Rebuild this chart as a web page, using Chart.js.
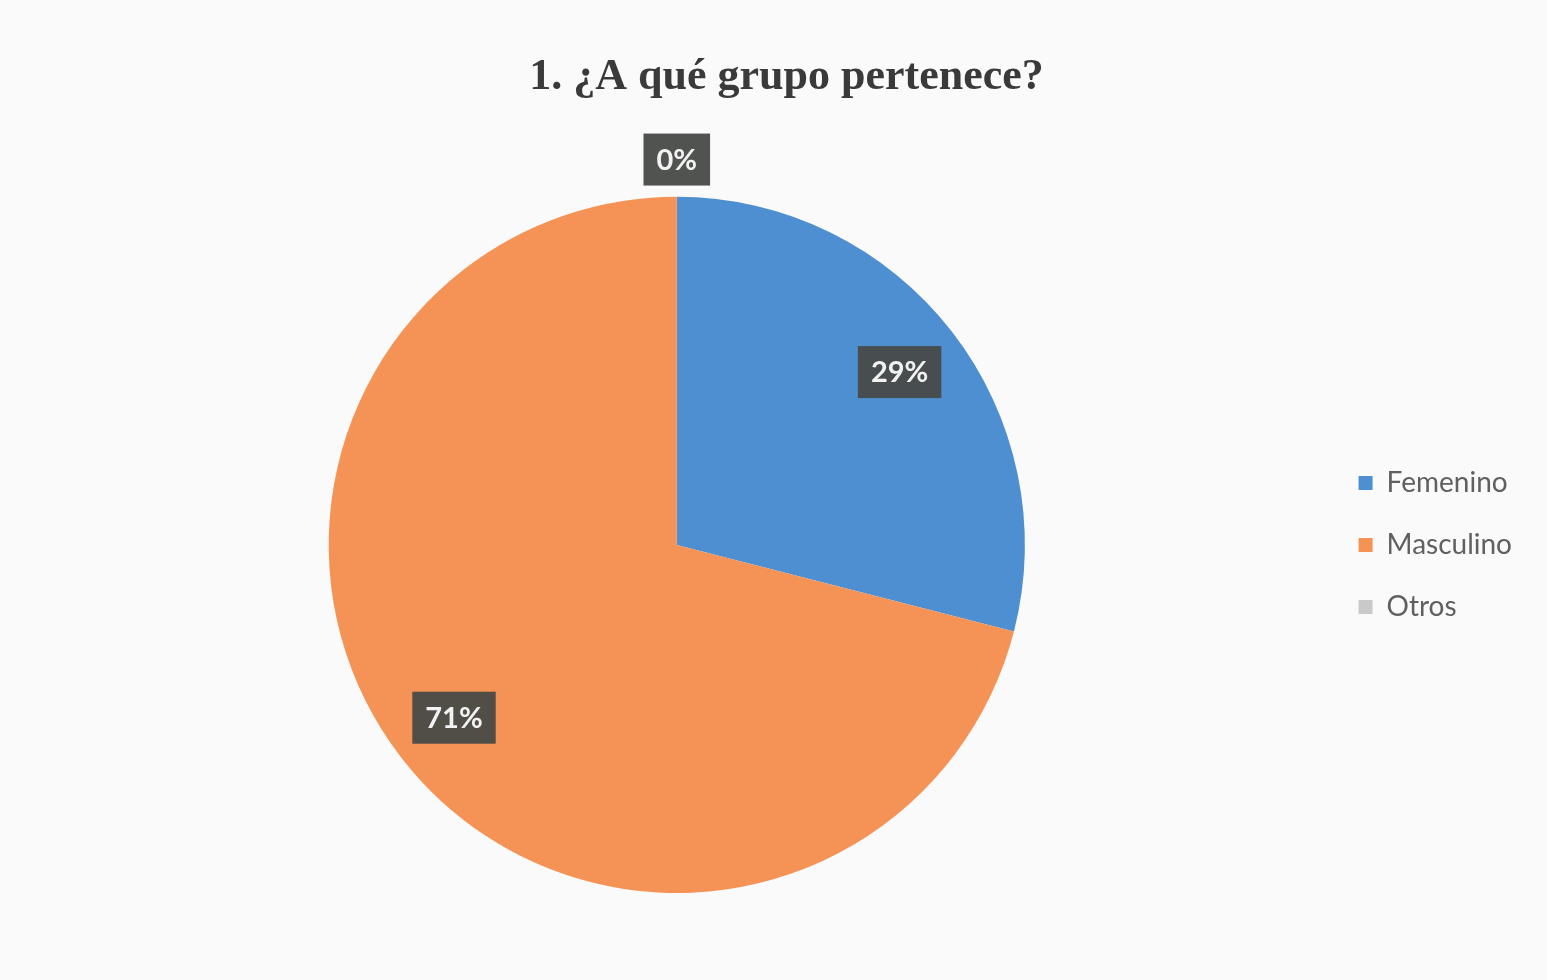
<!DOCTYPE html>
<html>
<head>
<meta charset="utf-8">
<script src="https://cdn.jsdelivr.net/npm/chart.js@4.4.1/dist/chart.umd.min.js"></script>
<style>
  html, body { margin: 0; padding: 0; background: #fafafa; overflow: hidden; }
  #wrap { position: relative; width: 1573px; height: 980px; }
</style>
</head>
<body>
<div id="wrap"><canvas id="pie"></canvas></div>
<script>
// --- DATA ---
const groups = ['Femenino', 'Masculino', 'Otros'];
const shares = [29, 71, 0];
const sliceColors = ['#4e8fd1', '#f59356', '#c9c9c9'];

// draws the dark label boxes on each slice (Excel style)
const sliceLabels = {
    id: 'sliceLabels',
    afterDatasetsDraw(chart) {
        const ctx = chart.ctx;
        const meta = chart.getDatasetMeta(0);
        ctx.save();
        ctx.font = 'bold 29px Lato';
        ctx.textAlign = 'center';
        ctx.textBaseline = 'middle';
        meta.data.forEach((arc, i) => {
            const p = arc.getProps(['x', 'y', 'startAngle', 'endAngle', 'outerRadius'], true);
            const mid = (p.startAngle + p.endAngle) / 2;
            // empty slices get their label pushed outside the pie
            const dist = shares[i] === 0 ? p.outerRadius * 1.107 : p.outerRadius * 0.81;
            const cx = p.x + Math.cos(mid) * dist;
            const cy = p.y + Math.sin(mid) * dist;
            const text = shares[i] + '%';
            const w = ctx.measureText(text).width + 26;
            const h = 52;
            ctx.fillStyle = 'rgba(72, 74, 72, 0.95)';
            ctx.fillRect(cx - w / 2, cy - h / 2, w, h);
            ctx.fillStyle = '#f2f2f2';
            ctx.fillText(text, cx, cy + 1);
        });
        ctx.restore();
    }
};

// extra room on the right of the legend so the title sits where it should
const widenLegend = {
    id: 'widenLegend',
    beforeLayout(chart) {
        const legend = chart.legend;
        if (!legend || legend._widened) return;
        const fit = legend.fit;
        legend.fit = function () {
            fit.call(this);
            this.width += 22;
        };
        legend._widened = true;
    }
};

new Chart(document.getElementById('pie'), {
    type: 'pie',
    data: {
        labels: groups,
        datasets: [{
            data: shares,
            backgroundColor: sliceColors,
            borderWidth: 0
        }]
    },
    options: {
        responsive: true,
        maintainAspectRatio: false,
        animation: false,
        layout: { padding: { top: 0, bottom: 87, left: 29, right: 29 } },
        plugins: {
            title: {
                display: true,
                text: '1. ¿A qué grupo pertenece?',
                color: '#3a3a3a',
                font: { family: 'Liberation Serif', size: 44, weight: 'bold' },
                padding: { top: 51, bottom: 93 }
            },
            legend: {
                position: 'right',
                fullSize: false,
                labels: {
                    boxWidth: 14,
                    boxHeight: 14,
                    padding: 34,
                    color: '#606060',
                    font: { family: 'Lato', size: 28 }
                }
            },
            tooltip: { enabled: false }
        }
    },
    plugins: [sliceLabels, widenLegend]
});
</script>
</body>
</html>
